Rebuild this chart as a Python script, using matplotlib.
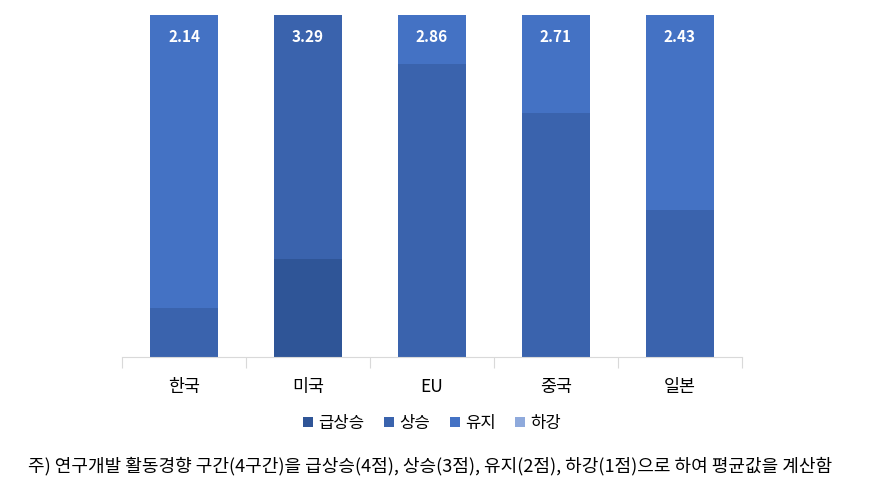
import numpy as np
import matplotlib.pyplot as plt

plt.rcParams['font.family'] = ['Noto Sans CJK KR', 'DejaVu Sans']

# 응답 비율(%) - 7명 기준
countries = ['한국', '미국', 'EU', '중국', '일본']
surge = [0, 28.6, 0, 0, 0]          # 급상승
rise = [14.3, 71.4, 85.7, 71.4, 42.9]  # 상승
keep = [85.7, 0, 14.3, 28.6, 57.1]     # 유지
fall = [0, 0, 0, 0, 0]               # 하강
averages = ['2.14', '3.29', '2.86', '2.71', '2.43']

series = [('급상승', surge, '#2F5597'),
          ('상승', rise, '#3A63AD'),
          ('유지', keep, '#4472C4'),
          ('하강', fall, '#8FAADC')]

fig = plt.figure(figsize=(8.79, 4.91), dpi=100)
ax = fig.add_axes([0.1388, 0.2729, 0.7053, 0.6966])

x = np.arange(len(countries))
bottom = np.zeros(len(countries))
for name, vals, color in series:
    ax.bar(x, vals, 0.55, bottom=bottom, color=color, label=name)
    bottom += np.array(vals)

for i, v in enumerate(averages):
    ax.text(x[i], 93.5, v, ha='center', va='center', color='white',
            fontsize=11, fontweight='bold')

ax.set_xlim(-0.5, len(countries) - 0.5)
ax.set_ylim(0, 100)
ax.set_yticks([])
for s in ['top', 'right', 'left']:
    ax.spines[s].set_visible(False)
ax.spines['bottom'].set_color('#D9D9D9')
ax.set_xticks(np.arange(-0.5, len(countries), 1))
ax.set_xticklabels([])
ax.tick_params(axis='x', length=8, color='#D9D9D9')
ax.set_xticks(x, minor=True)
ax.set_xticklabels(countries, minor=True, fontsize=12.5)
ax.tick_params(axis='x', which='minor', length=0, pad=15)

ax.legend(loc='upper center', bbox_to_anchor=(0.5, -0.125), ncol=4,
          frameon=False, fontsize=12, handlelength=0.6, handleheight=0.6,
          handletextpad=0.3, columnspacing=1.2)

fig.text(0.489, 0.05, '주) 연구개발 활동경향 구간(4구간)을 급상승(4점), 상승(3점), 유지(2점), 하강(1점)으로 하여 평균값을 계산함',
         ha='center', va='center', fontsize=13)

fig.savefig('out.png', dpi=100)
